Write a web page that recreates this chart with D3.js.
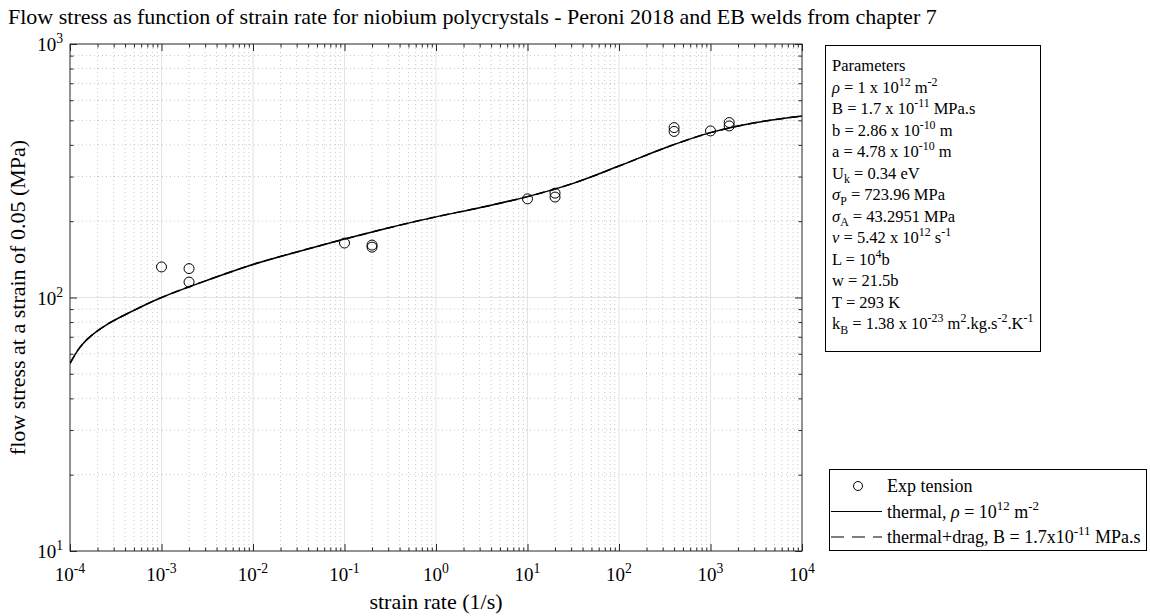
<!DOCTYPE html>
<html><head><meta charset="utf-8">
<script src="https://cdn.jsdelivr.net/npm/d3@7"></script>
<style>
body{margin:0;background:#fff;}
text{font-family:"Liberation Serif","Times New Roman",serif;fill:#000;}
</style></head>
<body><svg id="c" width="1150" height="616"></svg>
<script>
// ---- data ----
const titleText = "Flow stress as function of strain rate for niobium polycrystals - Peroni 2018 and EB welds from chapter 7";
const xLabelText = "strain rate (1/s)";
const yLabelText = "flow stress at a strain of 0.05 (MPa)";
const xTickExps = [-4,-3,-2,-1,0,1,2,3,4];
const yTickExps = [1,2,3];
const expRate   = [1e-3, 2e-3, 2e-3, 0.1, 0.2, 0.2, 10, 20, 20, 400, 400, 1000, 1600, 1600];
const expStress = [132, 130, 115, 164, 161, 158, 245, 258, 249, 468, 452, 454, 490, 475];
const modelRate     = [1e-4, 1.26e-4, 1.58e-4, 2.5e-4, 5e-4, 1e-3, 3.16e-3, 1e-2, 3.16e-2, 0.1, 0.316, 1, 3.16, 10, 31.6, 100, 316, 1000, 3160, 1e4];
const thermalStress = [55, 63, 69, 78, 89, 100, 117, 135, 152, 170, 189, 208, 227, 250, 282, 330, 389, 447, 490, 520];
const dragStress    = [55, 63, 69, 78, 89, 100, 117, 135, 152, 170, 189, 208, 227, 250, 282, 330, 389, 447, 490, 520];
const paramLines = [
  [["Parameters",""]],
  [[" ",""],["\u03C1","it"],[" = 1 x 10",""],["12","sup"],[" m",""],["-2","sup"]],
  [[" B = 1.7 x 10",""],["-11","sup"],[" MPa.s",""]],
  [[" b = 2.86 x 10",""],["-10","sup"],[" m",""]],
  [[" a = 4.78 x 10",""],["-10","sup"],[" m",""]],
  [[" U",""],["k","sub"],[" = 0.34 eV",""]],
  [[" ",""],["\u03C3","it"],["P","sub"],[" = 723.96 MPa",""]],
  [[" ",""],["\u03C3","it"],["A","sub"],[" = 43.2951 MPa",""]],
  [[" ",""],["\u03BD","it"],[" = 5.42 x 10",""],["12","sup"],[" s",""],["-1","sup"]],
  [[" L = 10",""],["4","sup"],["b",""]],
  [[" w = 21.5b",""]],
  [[" T = 293 K",""]],
  [[" k",""],["B","sub"],[" = 1.38 x 10",""],["-23","sup"],[" m",""],["2","sup"],[".kg.s",""],["-2","sup"],[".K",""],["-1","sup"]]
];
const legendItems = [
  {type:"marker", parts:[["Exp tension",""]]},
  {type:"solid", parts:[["thermal, ",""],["\u03C1","it"],[" = 10",""],["12","sup"],[" m",""],["-2","sup"]]},
  {type:"dashed", parts:[["thermal+drag, B = 1.7x10",""],["-11","sup"],[" MPa.s",""]]}
];

// ---- layout ----
const svg = d3.select("#c");
const L = 70, R = 802, T = 44, B = 551;
const x = d3.scaleLog().domain([1e-4,1e4]).range([L,R]);
const y = d3.scaleLog().domain([10,1000]).range([B,T]);

function richText(sel, parts, fs){
  let shift = 0;
  parts.forEach(([t,k])=>{
    const ts = sel.append("tspan").text(t);
    if(k==="sup"){ts.attr("font-size",fs*0.72).attr("dy",-fs*0.42-shift); shift=-fs*0.42;}
    else if(k==="sub"){ts.attr("font-size",fs*0.72).attr("dy",fs*0.3-shift); shift=fs*0.3;}
    else { ts.attr("dy",-shift); shift=0; if(k==="it") ts.attr("font-style","italic"); }
  });
}

// grid
const g = svg.append("g");
const minorX = [], minorY = [];
for(let e=-4;e<4;e++) for(let m=2;m<=9;m++) minorX.push(m*Math.pow(10,e));
for(let e=1;e<3;e++) for(let m=2;m<=9;m++) minorY.push(m*Math.pow(10,e));
g.selectAll(".mgx").data(minorX).join("line")
  .attr("x1",d=>x(d)).attr("x2",d=>x(d)).attr("y1",T).attr("y2",B)
  .attr("stroke","#c8c8c8").attr("stroke-width",1).attr("stroke-dasharray","1,3");
g.selectAll(".mgy").data(minorY).join("line")
  .attr("y1",d=>y(d)).attr("y2",d=>y(d)).attr("x1",L).attr("x2",R)
  .attr("stroke","#c8c8c8").attr("stroke-width",1).attr("stroke-dasharray","1,3");
g.selectAll(".Mgx").data(xTickExps.slice(1,-1)).join("line")
  .attr("x1",d=>x(Math.pow(10,d))).attr("x2",d=>x(Math.pow(10,d))).attr("y1",T).attr("y2",B)
  .attr("stroke","#e3e3e3").attr("stroke-width",1);
g.selectAll(".Mgy").data([2]).join("line")
  .attr("y1",d=>y(Math.pow(10,d))).attr("y2",d=>y(Math.pow(10,d))).attr("x1",L).attr("x2",R)
  .attr("stroke","#e3e3e3").attr("stroke-width",1);

// axes with inner ticks
const axCol = "#262626";
function addAxis(axisFn, scale, transform, vals, size){
  const a = svg.append("g").attr("transform",transform)
    .call(axisFn(scale).tickValues(vals).tickSize(size).tickFormat(""));
  a.select(".domain").remove();
  a.selectAll("line").attr("stroke",axCol);
}
const majX = xTickExps.map(e=>Math.pow(10,e)), majY = yTickExps.map(e=>Math.pow(10,e));
addAxis(d3.axisTop, x, `translate(0,${B})`, majX, 7);
addAxis(d3.axisTop, x, `translate(0,${B})`, minorX, 3.5);
addAxis(d3.axisBottom, x, `translate(0,${T})`, majX, 7);
addAxis(d3.axisBottom, x, `translate(0,${T})`, minorX, 3.5);
addAxis(d3.axisRight, y, `translate(${L},0)`, majY, 7);
addAxis(d3.axisRight, y, `translate(${L},0)`, minorY, 3.5);
addAxis(d3.axisLeft, y, `translate(${R},0)`, majY, 7);
addAxis(d3.axisLeft, y, `translate(${R},0)`, minorY, 3.5);
svg.append("rect").attr("x",L).attr("y",T).attr("width",R-L).attr("height",B-T)
  .attr("fill","none").attr("stroke",axCol).attr("stroke-width",1);

// tick labels
const fs = 19;
xTickExps.forEach(e=>{
  const t = svg.append("text").attr("x",x(Math.pow(10,e))).attr("y",581).attr("text-anchor","middle").attr("font-size",fs);
  richText(t,[["10",""],[String(e),"sup"]],fs);
});
yTickExps.forEach(e=>{
  const t = svg.append("text").attr("x",63).attr("y",y(Math.pow(10,e))+7).attr("text-anchor","end").attr("font-size",fs);
  richText(t,[["10",""],[String(e),"sup"]],fs);
});

// labels
svg.append("text").attr("x",8).attr("y",24).attr("font-size",22).text(titleText);
svg.append("text").attr("x",436).attr("y",609).attr("text-anchor","middle").attr("font-size",22).text(xLabelText);
svg.append("text").attr("transform",`translate(25,${(T+B)/2}) rotate(-90)`).attr("text-anchor","middle").attr("font-size",22).text(yLabelText);

// clip
svg.append("clipPath").attr("id","clp").append("rect").attr("x",L).attr("y",T).attr("width",R-L).attr("height",B-T);
const line = d3.line().x(d=>x(d[0])).y(d=>y(d[1])).curve(d3.curveCatmullRom.alpha(0.5));
svg.append("path").attr("clip-path","url(#clp)")
  .datum(modelRate.map((r,i)=>[r,thermalStress[i]]))
  .attr("d",line).attr("fill","none").attr("stroke","#000").attr("stroke-width",1.5);
svg.append("path").attr("clip-path","url(#clp)")
  .datum(modelRate.map((r,i)=>[r,dragStress[i]]))
  .attr("d",line).attr("fill","none").attr("stroke","#000").attr("stroke-width",1.5).attr("stroke-dasharray","9,5");
svg.selectAll(".pt").data(expRate.map((r,i)=>[r,expStress[i]])).join("circle")
  .attr("cx",d=>x(d[0])).attr("cy",d=>y(d[1])).attr("r",5)
  .attr("fill","none").attr("stroke","#000").attr("stroke-width",1);

// parameters box
svg.append("rect").attr("x",825.5).attr("y",45.5).attr("width",215).attr("height",306)
  .attr("fill","#fff").attr("stroke","#000").attr("stroke-width",1);
paramLines.forEach((parts,i)=>{
  const t = svg.append("text").attr("x",832).attr("y",71+i*21.5).attr("font-size",16.5);
  richText(t,parts,16.5);
});

// legend
const lg = svg.append("g");
lg.append("rect").attr("x",829.5).attr("y",469.5).attr("width",317).attr("height",81)
  .attr("fill","#fff").attr("stroke","#000").attr("stroke-width",1);
legendItems.forEach((it,i)=>{
  const cy = 486 + i*25.5;
  if(it.type==="marker"){
    lg.append("circle").attr("cx",858).attr("cy",cy).attr("r",4.5).attr("fill","none").attr("stroke","#000");
  } else {
    lg.append("line").attr("x1",831).attr("x2",882).attr("y1",cy).attr("y2",cy)
      .attr("stroke","#000").attr("stroke-width",1.2)
      .attr("stroke-dasharray",it.type==="dashed"?"13,8":null);
  }
  const t = lg.append("text").attr("x",887).attr("y",cy+6).attr("font-size",18);
  richText(t,it.parts,18);
});
</script></body></html>
